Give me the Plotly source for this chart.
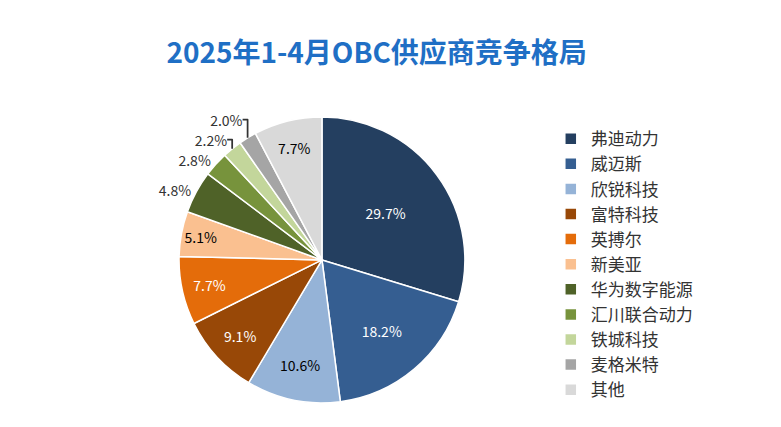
import plotly.graph_objects as go

labels = ["弗迪动力","威迈斯","欣锐科技","富特科技","英搏尔","新美亚","华为数字能源","汇川联合动力","铁城科技","麦格米特","其他"]
values = [29.7,18.2,10.6,9.1,7.7,5.1,4.8,2.8,2.2,2.0,7.7]
colors = ["#243F60","#355E91","#95B3D7","#984807","#E46C0A","#FAC090","#4F6228","#77933C","#C3D69B","#A5A5A5","#D9D9D9"]
text_colors = ["white","white","black","white","white","black","black","black","black","black","black"]
positions = ["inside"]*6 + ["outside"]*4 + ["inside"]

fig = go.Figure(go.Pie(
    labels=labels, values=values, sort=False, direction="clockwise", rotation=0,
    marker=dict(colors=colors, line=dict(color="white", width=1.5)),
    texttemplate="%{value:.1f}%", textposition=positions,
    insidetextfont=dict(color=text_colors, size=14, family="Noto Sans CJK SC"),
    outsidetextfont=dict(color="#333333", size=14, family="Noto Sans CJK SC"),
    insidetextorientation="horizontal",
    domain=dict(x=[0.219,0.585], y=[0.075,0.745]),
))
fig.update_layout(
    width=781, height=427, margin=dict(l=0,r=0,t=0,b=0),
    paper_bgcolor="white", plot_bgcolor="white",
    title=dict(text="<b>2025年1-4月OBC供应商竞争格局</b>", x=0.472, xanchor="center", y=0.895, yanchor="middle",
               font=dict(size=28, color="#1F6FC5", family="Noto Sans CJK SC")),
    legend=dict(x=0.695, y=0.735, yanchor="top", font=dict(size=17, color="#333333", family="Noto Sans CJK SC"),
                tracegroupgap=0, itemwidth=30),
)
fig.write_html("out.html")
